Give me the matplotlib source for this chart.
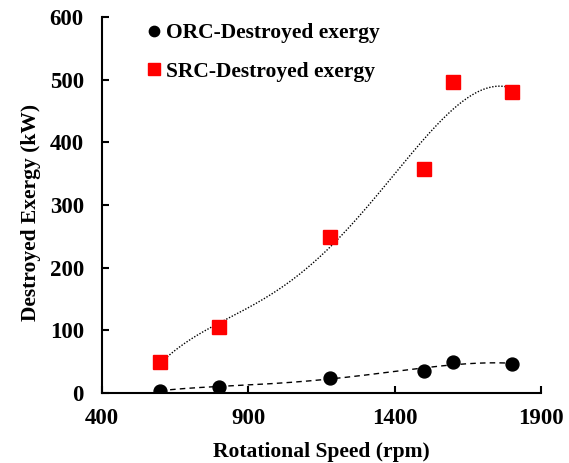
import numpy as np
import matplotlib
matplotlib.use("Agg")
import matplotlib.pyplot as plt

speed = [600, 800, 1180, 1500, 1600, 1800]
orc_exergy = [4, 10, 24, 36, 49, 47]
src_exergy = [50, 105, 249, 358, 496, 480]

plt.rcParams['font.family'] = ['Liberation Serif', 'DejaVu Serif']
plt.rcParams['font.weight'] = 'bold'

fig = plt.figure(figsize=(5.69, 4.63), dpi=100)
ax = fig.add_axes([0.179, 0.151, 0.772, 0.812])

# polynomial trendlines (order 4)
xs = np.linspace(min(speed), max(speed), 300)
p_src = np.polyfit(speed, src_exergy, 4)
p_orc = np.polyfit(speed, orc_exergy, 4)
ax.plot(xs, np.polyval(p_src, xs), color='black', lw=1.0, ls=(0, (1, 1.2)), zorder=2)
ax.plot(xs, np.polyval(p_orc, xs), color='black', lw=1.0, ls=(0, (4, 3)), zorder=2)

ax.plot(speed, orc_exergy, 'o', color='black', markersize=9.3, ls='none',
        label='ORC-Destroyed exergy', zorder=3)
ax.plot(speed, src_exergy, 's', color='#ff0000', markersize=10.5, ls='none',
        label='SRC-Destroyed exergy', zorder=3)

ax.set_xlim(400, 1900)
ax.set_ylim(0, 600)
ax.set_xticks([400, 900, 1400, 1900])
ax.set_yticks(range(0, 601, 100))
for s in ['top', 'right']:
    ax.spines[s].set_visible(False)
for s in ['left', 'bottom']:
    ax.spines[s].set_linewidth(1.5)
ax.tick_params(direction='in', length=5, width=1.5, labelsize=16.5)
ax.tick_params(axis='x', pad=11)
ax.tick_params(axis='y', pad=13)
for lab in ax.get_xticklabels() + ax.get_yticklabels():
    lab.set_fontweight('bold')

ax.set_xlabel('Rotational Speed (rpm)', fontsize=15.5, fontweight='bold', labelpad=9)
ax.set_ylabel('Destroyed Exergy (kW)', fontsize=15.5, fontweight='bold', labelpad=6)
ax.yaxis.label.set_y(0.48)

leg = ax.legend(loc='upper left', bbox_to_anchor=(0.05, 1.035), frameon=False,
                prop={'size': 15.5, 'weight': 'bold'}, handletextpad=0.05,
                handlelength=1.0, labelspacing=0.85, markerscale=0.8)

fig.savefig('out.png', dpi=100)
